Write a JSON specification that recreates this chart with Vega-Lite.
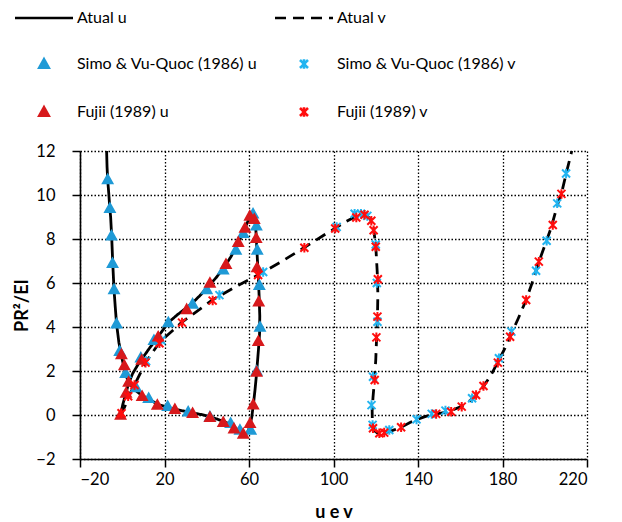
{
  "$schema": "https://vega.github.io/schema/vega-lite/v6.json",
  "width": 507,
  "height": 308,
  "autosize": {"type": "none"},
  "padding": {"left": 80, "top": 151, "right": 35, "bottom": 63},
  "background": "white",
  "config": {
    "view": {"stroke": null},
    "font": "Lato",
    "axis": {
      "labelFont": "Lato", "labelFontSize": 16.5, "labelColor": "black",
      "titleFont": "Lato", "titleFontSize": 18, "titleFontWeight": "bold", "titleColor": "black",
      "domainColor": "black", "domainWidth": 1.6, "tickColor": "black", "tickWidth": 1.5,
      "grid": true, "gridColor": "black", "gridDash": [1.5, 2], "gridWidth": 1.3, "gridOpacity": 1
    }
  },
  "datasets": {
    "lines": [
      {"series":"Atual u","i":1,"x":-0.8,"y":0},
      {"series":"Atual u","i":2,"x":0.3,"y":0.5},
      {"series":"Atual u","i":3,"x":1.8,"y":1.0},
      {"series":"Atual u","i":4,"x":3.0,"y":1.45},
      {"series":"Atual u","i":5,"x":5.0,"y":1.9},
      {"series":"Atual u","i":6,"x":7.5,"y":2.3},
      {"series":"Atual u","i":7,"x":9.5,"y":2.58},
      {"series":"Atual u","i":8,"x":13,"y":3.05},
      {"series":"Atual u","i":9,"x":16.5,"y":3.5},
      {"series":"Atual u","i":10,"x":21.8,"y":4.2},
      {"series":"Atual u","i":11,"x":26,"y":4.55},
      {"series":"Atual u","i":12,"x":30.5,"y":4.88},
      {"series":"Atual u","i":13,"x":33.5,"y":5.12},
      {"series":"Atual u","i":14,"x":37,"y":5.45},
      {"series":"Atual u","i":15,"x":40.8,"y":5.85},
      {"series":"Atual u","i":16,"x":44.5,"y":6.25},
      {"series":"Atual u","i":17,"x":48.3,"y":6.73},
      {"series":"Atual u","i":18,"x":51.5,"y":7.2},
      {"series":"Atual u","i":19,"x":54.5,"y":7.75},
      {"series":"Atual u","i":20,"x":57.2,"y":8.3},
      {"series":"Atual u","i":21,"x":59,"y":8.7},
      {"series":"Atual u","i":22,"x":60.6,"y":9.05},
      {"series":"Atual u","i":23,"x":61.8,"y":9.18},
      {"series":"Atual u","i":24,"x":62.7,"y":9.0},
      {"series":"Atual u","i":25,"x":63.2,"y":8.5},
      {"series":"Atual u","i":26,"x":63.5,"y":8.0},
      {"series":"Atual u","i":27,"x":63.9,"y":7.2},
      {"series":"Atual u","i":28,"x":64.4,"y":6.3},
      {"series":"Atual u","i":29,"x":64.8,"y":5.4},
      {"series":"Atual u","i":30,"x":65.1,"y":4.5},
      {"series":"Atual u","i":31,"x":65.0,"y":3.7},
      {"series":"Atual u","i":32,"x":64.5,"y":3.0},
      {"series":"Atual u","i":33,"x":64.0,"y":2.4},
      {"series":"Atual u","i":34,"x":63.4,"y":1.7},
      {"series":"Atual u","i":35,"x":62.8,"y":1.1},
      {"series":"Atual u","i":36,"x":62.1,"y":0.5},
      {"series":"Atual u","i":37,"x":61.3,"y":-0.1},
      {"series":"Atual u","i":38,"x":60.3,"y":-0.55},
      {"series":"Atual u","i":39,"x":59.2,"y":-0.8},
      {"series":"Atual u","i":40,"x":58.2,"y":-0.88},
      {"series":"Atual u","i":41,"x":56.5,"y":-0.78},
      {"series":"Atual u","i":42,"x":54,"y":-0.62},
      {"series":"Atual u","i":43,"x":51.3,"y":-0.42},
      {"series":"Atual u","i":44,"x":48,"y":-0.3},
      {"series":"Atual u","i":45,"x":44.5,"y":-0.17},
      {"series":"Atual u","i":46,"x":41.5,"y":-0.08},
      {"series":"Atual u","i":47,"x":37,"y":0.03},
      {"series":"Atual u","i":48,"x":33,"y":0.1},
      {"series":"Atual u","i":49,"x":28,"y":0.2},
      {"series":"Atual u","i":50,"x":24.5,"y":0.27},
      {"series":"Atual u","i":51,"x":21.5,"y":0.35},
      {"series":"Atual u","i":52,"x":17,"y":0.48},
      {"series":"Atual u","i":53,"x":13,"y":0.7},
      {"series":"Atual u","i":54,"x":9.5,"y":0.88},
      {"series":"Atual u","i":55,"x":6.5,"y":1.1},
      {"series":"Atual u","i":56,"x":4.0,"y":1.35},
      {"series":"Atual u","i":57,"x":2.5,"y":1.6},
      {"series":"Atual u","i":58,"x":1.2,"y":2.0},
      {"series":"Atual u","i":59,"x":-0.3,"y":2.65},
      {"series":"Atual u","i":60,"x":-1.6,"y":3.3},
      {"series":"Atual u","i":61,"x":-2.7,"y":4.15},
      {"series":"Atual u","i":62,"x":-3.3,"y":4.9},
      {"series":"Atual u","i":63,"x":-3.9,"y":5.7},
      {"series":"Atual u","i":64,"x":-4.5,"y":6.9},
      {"series":"Atual u","i":65,"x":-5.0,"y":8.1},
      {"series":"Atual u","i":66,"x":-5.5,"y":9.0},
      {"series":"Atual u","i":67,"x":-5.9,"y":9.4},
      {"series":"Atual u","i":68,"x":-6.4,"y":10.1},
      {"series":"Atual u","i":69,"x":-6.9,"y":10.7},
      {"series":"Atual u","i":70,"x":-7.2,"y":11.3},
      {"series":"Atual u","i":71,"x":-7.4,"y":12},
      {"series":"Atual v","i":1,"x":-0.5,"y":0},
      {"series":"Atual v","i":2,"x":1.5,"y":0.45},
      {"series":"Atual v","i":3,"x":3,"y":0.85},
      {"series":"Atual v","i":4,"x":6,"y":1.4},
      {"series":"Atual v","i":5,"x":11,"y":2.38},
      {"series":"Atual v","i":6,"x":17.6,"y":3.3},
      {"series":"Atual v","i":7,"x":28,"y":4.2},
      {"series":"Atual v","i":8,"x":43,"y":5.25},
      {"series":"Atual v","i":9,"x":55,"y":5.9},
      {"series":"Atual v","i":10,"x":65,"y":6.4},
      {"series":"Atual v","i":11,"x":75,"y":6.95},
      {"series":"Atual v","i":12,"x":86,"y":7.6},
      {"series":"Atual v","i":13,"x":95,"y":8.15},
      {"series":"Atual v","i":14,"x":101,"y":8.5},
      {"series":"Atual v","i":15,"x":106,"y":8.8},
      {"series":"Atual v","i":16,"x":110,"y":9.0},
      {"series":"Atual v","i":17,"x":113,"y":9.12},
      {"series":"Atual v","i":18,"x":115.5,"y":9.1},
      {"series":"Atual v","i":19,"x":117.5,"y":8.9},
      {"series":"Atual v","i":20,"x":119,"y":8.45},
      {"series":"Atual v","i":21,"x":120,"y":7.7},
      {"series":"Atual v","i":22,"x":120.7,"y":6.5},
      {"series":"Atual v","i":23,"x":121,"y":5.5},
      {"series":"Atual v","i":24,"x":120.8,"y":4.4},
      {"series":"Atual v","i":25,"x":120.4,"y":3.5},
      {"series":"Atual v","i":26,"x":120,"y":2.5},
      {"series":"Atual v","i":27,"x":119.4,"y":1.6},
      {"series":"Atual v","i":28,"x":118.7,"y":0.8},
      {"series":"Atual v","i":29,"x":118.3,"y":0.2},
      {"series":"Atual v","i":30,"x":118.4,"y":-0.4},
      {"series":"Atual v","i":31,"x":119.2,"y":-0.7},
      {"series":"Atual v","i":32,"x":121,"y":-0.83},
      {"series":"Atual v","i":33,"x":124,"y":-0.82},
      {"series":"Atual v","i":34,"x":128,"y":-0.7},
      {"series":"Atual v","i":35,"x":132,"y":-0.56},
      {"series":"Atual v","i":36,"x":136,"y":-0.35},
      {"series":"Atual v","i":37,"x":139.5,"y":-0.2},
      {"series":"Atual v","i":38,"x":144,"y":-0.05},
      {"series":"Atual v","i":39,"x":148.6,"y":0.05},
      {"series":"Atual v","i":40,"x":153,"y":0.12},
      {"series":"Atual v","i":41,"x":157,"y":0.25},
      {"series":"Atual v","i":42,"x":160.7,"y":0.4},
      {"series":"Atual v","i":43,"x":164,"y":0.6},
      {"series":"Atual v","i":44,"x":167.5,"y":0.9},
      {"series":"Atual v","i":45,"x":171,"y":1.3},
      {"series":"Atual v","i":46,"x":174.5,"y":1.8},
      {"series":"Atual v","i":47,"x":178,"y":2.45},
      {"series":"Atual v","i":48,"x":181,"y":3.0},
      {"series":"Atual v","i":49,"x":184,"y":3.65},
      {"series":"Atual v","i":50,"x":187.5,"y":4.4},
      {"series":"Atual v","i":51,"x":191.2,"y":5.23},
      {"series":"Atual v","i":52,"x":194,"y":6.0},
      {"series":"Atual v","i":53,"x":197,"y":6.9},
      {"series":"Atual v","i":54,"x":200,"y":7.7},
      {"series":"Atual v","i":55,"x":203,"y":8.5},
      {"series":"Atual v","i":56,"x":206,"y":9.55},
      {"series":"Atual v","i":57,"x":208,"y":10.1},
      {"series":"Atual v","i":58,"x":210.2,"y":11.0},
      {"series":"Atual v","i":59,"x":212.8,"y":12.0}
    ],
    "points": [
      {"series":"Simo & Vu-Quoc (1986) u","x":-6.9,"y":10.7},
      {"series":"Simo & Vu-Quoc (1986) u","x":-5.85,"y":9.4},
      {"series":"Simo & Vu-Quoc (1986) u","x":-5.1,"y":8.15},
      {"series":"Simo & Vu-Quoc (1986) u","x":-4.6,"y":6.9},
      {"series":"Simo & Vu-Quoc (1986) u","x":-3.9,"y":5.7},
      {"series":"Simo & Vu-Quoc (1986) u","x":-2.7,"y":4.15},
      {"series":"Simo & Vu-Quoc (1986) u","x":-1.2,"y":2.9},
      {"series":"Simo & Vu-Quoc (1986) u","x":1.6,"y":1.9},
      {"series":"Simo & Vu-Quoc (1986) u","x":6.5,"y":1.25},
      {"series":"Simo & Vu-Quoc (1986) u","x":12.5,"y":0.76},
      {"series":"Simo & Vu-Quoc (1986) u","x":21.5,"y":0.4},
      {"series":"Simo & Vu-Quoc (1986) u","x":31.2,"y":0.15},
      {"series":"Simo & Vu-Quoc (1986) u","x":41.5,"y":-0.08},
      {"series":"Simo & Vu-Quoc (1986) u","x":51.3,"y":-0.38},
      {"series":"Simo & Vu-Quoc (1986) u","x":55.7,"y":-0.68},
      {"series":"Simo & Vu-Quoc (1986) u","x":60.8,"y":-0.68},
      {"series":"Simo & Vu-Quoc (1986) u","x":63.6,"y":2.0},
      {"series":"Simo & Vu-Quoc (1986) u","x":65.2,"y":4.0},
      {"series":"Simo & Vu-Quoc (1986) u","x":64.9,"y":5.9},
      {"series":"Simo & Vu-Quoc (1986) u","x":63.9,"y":7.5},
      {"series":"Simo & Vu-Quoc (1986) u","x":63.5,"y":8.6},
      {"series":"Simo & Vu-Quoc (1986) u","x":61.9,"y":9.15},
      {"series":"Simo & Vu-Quoc (1986) u","x":57.3,"y":8.26},
      {"series":"Simo & Vu-Quoc (1986) u","x":53.8,"y":7.5},
      {"series":"Simo & Vu-Quoc (1986) u","x":47.8,"y":6.6},
      {"series":"Simo & Vu-Quoc (1986) u","x":40,"y":5.7},
      {"series":"Simo & Vu-Quoc (1986) u","x":33.3,"y":5.05},
      {"series":"Simo & Vu-Quoc (1986) u","x":21.8,"y":4.2},
      {"series":"Simo & Vu-Quoc (1986) u","x":15,"y":3.4},
      {"series":"Simo & Vu-Quoc (1986) u","x":8.8,"y":2.6},
      {"series":"Simo & Vu-Quoc (1986) v","x":11.3,"y":2.45},
      {"series":"Simo & Vu-Quoc (1986) v","x":18.5,"y":3.4},
      {"series":"Simo & Vu-Quoc (1986) v","x":46,"y":5.45},
      {"series":"Simo & Vu-Quoc (1986) v","x":66.7,"y":6.5},
      {"series":"Simo & Vu-Quoc (1986) v","x":101.5,"y":8.55},
      {"series":"Simo & Vu-Quoc (1986) v","x":110,"y":9.15},
      {"series":"Simo & Vu-Quoc (1986) v","x":113,"y":9.15},
      {"series":"Simo & Vu-Quoc (1986) v","x":116,"y":9.05},
      {"series":"Simo & Vu-Quoc (1986) v","x":120,"y":7.75},
      {"series":"Simo & Vu-Quoc (1986) v","x":120.5,"y":6.0},
      {"series":"Simo & Vu-Quoc (1986) v","x":120.8,"y":4.24},
      {"series":"Simo & Vu-Quoc (1986) v","x":118.7,"y":1.74},
      {"series":"Simo & Vu-Quoc (1986) v","x":118,"y":0.45},
      {"series":"Simo & Vu-Quoc (1986) v","x":118.5,"y":-0.45},
      {"series":"Simo & Vu-Quoc (1986) v","x":126.4,"y":-0.68},
      {"series":"Simo & Vu-Quoc (1986) v","x":139.3,"y":-0.2},
      {"series":"Simo & Vu-Quoc (1986) v","x":146.5,"y":0.05},
      {"series":"Simo & Vu-Quoc (1986) v","x":153,"y":0.2},
      {"series":"Simo & Vu-Quoc (1986) v","x":165.6,"y":0.76},
      {"series":"Simo & Vu-Quoc (1986) v","x":178.3,"y":2.58},
      {"series":"Simo & Vu-Quoc (1986) v","x":184.2,"y":3.79},
      {"series":"Simo & Vu-Quoc (1986) v","x":195.9,"y":6.56},
      {"series":"Simo & Vu-Quoc (1986) v","x":200.9,"y":7.92},
      {"series":"Simo & Vu-Quoc (1986) v","x":205.9,"y":9.62},
      {"series":"Simo & Vu-Quoc (1986) v","x":210.1,"y":10.98},
      {"series":"Fujii (1989) u","x":-0.8,"y":0},
      {"series":"Fujii (1989) u","x":1.8,"y":1.0},
      {"series":"Fujii (1989) u","x":-0.4,"y":2.75},
      {"series":"Fujii (1989) u","x":1.0,"y":2.25},
      {"series":"Fujii (1989) u","x":3.0,"y":1.5},
      {"series":"Fujii (1989) u","x":9.4,"y":0.85},
      {"series":"Fujii (1989) u","x":16.6,"y":0.45},
      {"series":"Fujii (1989) u","x":24.9,"y":0.26},
      {"series":"Fujii (1989) u","x":33.3,"y":0.08},
      {"series":"Fujii (1989) u","x":41.5,"y":-0.1},
      {"series":"Fujii (1989) u","x":47.8,"y":-0.33},
      {"series":"Fujii (1989) u","x":52.9,"y":-0.62},
      {"series":"Fujii (1989) u","x":57.3,"y":-0.86},
      {"series":"Fujii (1989) u","x":60.5,"y":-0.38},
      {"series":"Fujii (1989) u","x":62,"y":0.47},
      {"series":"Fujii (1989) u","x":63.6,"y":1.95},
      {"series":"Fujii (1989) u","x":64.4,"y":3.35},
      {"series":"Fujii (1989) u","x":64.6,"y":5.15},
      {"series":"Fujii (1989) u","x":63.8,"y":6.7},
      {"series":"Fujii (1989) u","x":63.4,"y":8.03},
      {"series":"Fujii (1989) u","x":62.5,"y":8.9},
      {"series":"Fujii (1989) u","x":60.4,"y":9.05},
      {"series":"Fujii (1989) u","x":58.1,"y":8.5},
      {"series":"Fujii (1989) u","x":54.9,"y":7.85},
      {"series":"Fujii (1989) u","x":49.1,"y":6.85},
      {"series":"Fujii (1989) u","x":41.5,"y":6.0},
      {"series":"Fujii (1989) u","x":30.5,"y":4.8},
      {"series":"Fujii (1989) u","x":17,"y":3.56},
      {"series":"Fujii (1989) u","x":9.2,"y":2.5},
      {"series":"Fujii (1989) v","x":-0.35,"y":0.08},
      {"series":"Fujii (1989) v","x":2.8,"y":0.85},
      {"series":"Fujii (1989) v","x":5.8,"y":1.36},
      {"series":"Fujii (1989) v","x":11,"y":2.38},
      {"series":"Fujii (1989) v","x":17.6,"y":3.26},
      {"series":"Fujii (1989) v","x":28.3,"y":4.2},
      {"series":"Fujii (1989) v","x":42.8,"y":5.2},
      {"series":"Fujii (1989) v","x":64.3,"y":6.36},
      {"series":"Fujii (1989) v","x":86.2,"y":7.6},
      {"series":"Fujii (1989) v","x":100.8,"y":8.48},
      {"series":"Fujii (1989) v","x":110.8,"y":8.98},
      {"series":"Fujii (1989) v","x":114.7,"y":9.1},
      {"series":"Fujii (1989) v","x":117.9,"y":8.83},
      {"series":"Fujii (1989) v","x":119,"y":8.4},
      {"series":"Fujii (1989) v","x":120,"y":7.65},
      {"series":"Fujii (1989) v","x":121,"y":6.17},
      {"series":"Fujii (1989) v","x":120.8,"y":4.47},
      {"series":"Fujii (1989) v","x":120.3,"y":3.53},
      {"series":"Fujii (1989) v","x":119.5,"y":1.59},
      {"series":"Fujii (1989) v","x":118.7,"y":-0.6},
      {"series":"Fujii (1989) v","x":121.7,"y":-0.83},
      {"series":"Fujii (1989) v","x":124,"y":-0.8},
      {"series":"Fujii (1989) v","x":132,"y":-0.56},
      {"series":"Fujii (1989) v","x":148.6,"y":0.05},
      {"series":"Fujii (1989) v","x":155.7,"y":0.15},
      {"series":"Fujii (1989) v","x":160.7,"y":0.38},
      {"series":"Fujii (1989) v","x":167.5,"y":0.91},
      {"series":"Fujii (1989) v","x":171,"y":1.32},
      {"series":"Fujii (1989) v","x":177.8,"y":2.38},
      {"series":"Fujii (1989) v","x":183.6,"y":3.56},
      {"series":"Fujii (1989) v","x":191.2,"y":5.23},
      {"series":"Fujii (1989) v","x":197.2,"y":6.97},
      {"series":"Fujii (1989) v","x":203.8,"y":8.64},
      {"series":"Fujii (1989) v","x":207.9,"y":10.05}
    ]
  },
  "encoding": {
    "x": {"field": "x", "type": "quantitative",
      "scale": {"domain": [-20, 220], "nice": false, "zero": false},
      "axis": {"values": [-20, 20, 60, 100, 140, 180, 220], "title": "u e v", "tickSize": 8, "labelPadding": 4, "titlePadding": 16}},
    "y": {"field": "y", "type": "quantitative",
      "scale": {"domain": [-2, 12], "nice": false, "zero": false},
      "axis": {"values": [-2, 0, 2, 4, 6, 8, 10, 12], "title": "PR²/EI", "tickSize": 8, "labelPadding": 17, "titlePadding": 4}}
  },
  "layer": [
    {
      "data": {"name": "lines"},
      "mark": {"type": "line", "strokeWidth": 2.8, "clip": true},
      "encoding": {
        "order": {"field": "i", "type": "quantitative"},
        "color": {"field": "series", "type": "nominal",
          "scale": {"domain": ["Atual u", "Atual v", "Simo & Vu-Quoc (1986) u", "Simo & Vu-Quoc (1986) v", "Fujii (1989) u", "Fujii (1989) v"],
                    "range": ["#000000", "#000000", "#1f9ad6", "#22b4f0", "#d7191c", "#ff0d0d"]},
          "legend": {
            "orient": "none", "legendX": -67, "legendY": -141, "columns": 2, "direction": "horizontal", "title": null,
            "symbolSize": 100, "symbolOffset": 23, "labelOffset": 25, "columnPadding": 11, "rowPadding": 28,
            "labelFont": "Lato", "labelFontSize": 16, "labelColor": "black", "symbolStrokeWidth": 2.6, "labelLimit": 400,
            "encode": {"symbols": {"update": {
              "fill": {"scale": "color", "field": "value"},
              "stroke": {"scale": "color", "field": "value"},
              "shape": {"scale": "shape", "field": "value"},
              "strokeDash": {"scale": "strokeDash", "field": "value"},
              "opacity": {"value": 1}
            }}}
          }},
        "strokeDash": {"field": "series", "type": "nominal",
          "scale": {"domain": ["Atual u", "Atual v", "Simo & Vu-Quoc (1986) u", "Simo & Vu-Quoc (1986) v", "Fujii (1989) u", "Fujii (1989) v"],
                    "range": [[1, 0], [11, 7], [1, 0], [1, 0], [1, 0], [1, 0]]}}
      }
    },
    {
      "data": {"name": "points"},
      "mark": {"type": "point", "filled": true, "size": 100, "strokeWidth": 2, "opacity": 1},
      "encoding": {
        "color": {"field": "series", "type": "nominal"},
        "stroke": {"field": "series", "type": "nominal", "legend": null,
          "scale": {"domain": ["Atual u", "Atual v", "Simo & Vu-Quoc (1986) u", "Simo & Vu-Quoc (1986) v", "Fujii (1989) u", "Fujii (1989) v"],
                    "range": ["#000000", "#000000", "#1f9ad6", "#22b4f0", "#d7191c", "#ff0d0d"]}},
        "shape": {"field": "series", "type": "nominal",
          "scale": {"domain": ["Atual u", "Atual v", "Simo & Vu-Quoc (1986) u", "Simo & Vu-Quoc (1986) v", "Fujii (1989) u", "Fujii (1989) v"],
                    "range": ["M-5.8,0H5.8", "M-5.8,0H5.8", "M0,-0.95L0.95,0.75L-0.95,0.75Z", "M-0.8,-0.8L0.8,0.8M-0.8,0.8L0.8,-0.8M0,-0.95L0,0.95", "M0,-0.95L0.95,0.75L-0.95,0.75Z", "M-0.8,-0.8L0.8,0.8M-0.8,0.8L0.8,-0.8M0,-0.95L0,0.95"]}}
      }
    }
  ]
}
